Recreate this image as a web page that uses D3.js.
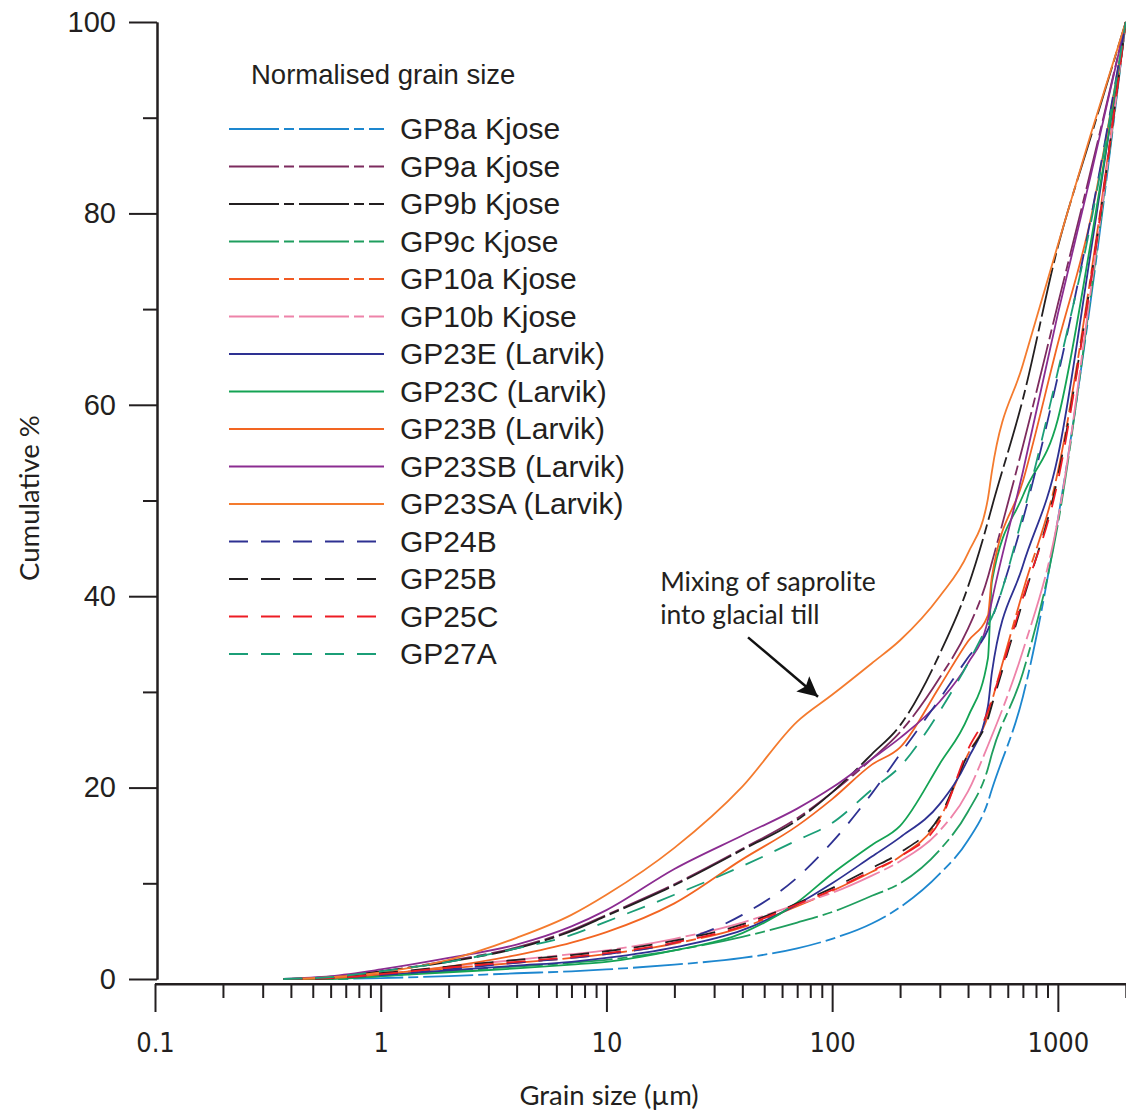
<!DOCTYPE html>
<html>
<head>
<meta charset="utf-8">
<script src="https://cdn.jsdelivr.net/npm/d3@7"></script>
<style>
  body { margin: 0; background: #fff; }
  svg { display: block; }
  .axis path, .axis line { stroke: #231f20; stroke-width: 2; }
  .axis text { fill: #231f20; }
  .curve { fill: none; stroke-width: 1.8; }
</style>
</head>
<body>
<div id="chart"></div>
<script>
// grain sizes (µm) shared by every sample
var sizes = [0.37, 0.6, 1, 2, 4, 7, 10, 20, 40, 70, 100, 150, 200, 300, 400, 490, 510, 700, 1000, 1400, 2000];

// cumulative % per sample
var gp8a   = [0, 0, 0.1, 0.3, 0.6, 0.8, 1.0, 1.5, 2.2, 3.2, 4.2, 5.8, 7.5, 11, 14.5, 18.5, 19.8, 29.5, 48, 71, 100];
var gp9a   = [0, 0.2, 0.8, 1.9, 3.3, 5.1, 6.7, 9.9, 13.6, 16.8, 19.5, 23, 25.8, 31.5, 36.6, 42, 43.5, 55.7, 70.5, 84.5, 100];
var gp9b   = [0, 0.2, 0.8, 1.8, 3.2, 5.0, 6.6, 9.8, 13.5, 16.6, 19.5, 23.5, 26.5, 34, 41, 47.8, 49.3, 60.6, 76.5, 88, 100];
var gp9c   = [0, 0, 0.3, 0.8, 1.3, 1.7, 2.0, 3.0, 4.4, 5.9, 7.0, 8.7, 10.0, 13.5, 17.5, 22, 23.5, 32, 47.5, 71.5, 100];
var gp10a  = [0, 0.1, 0.5, 1.1, 1.7, 2.2, 2.6, 3.7, 5.4, 7.6, 9.2, 11.2, 12.8, 16.8, 23.5, 27.5, 29, 40.5, 53, 73.5, 100];
var gp10b  = [0, 0.1, 0.5, 1.3, 2.0, 2.6, 3.0, 4.2, 5.9, 7.8, 9.0, 10.8, 12.3, 15.5, 19.6, 24.4, 25.4, 34.3, 48, 72, 100];
var gp23e  = [0, 0.1, 0.4, 0.9, 1.4, 1.8, 2.2, 3.3, 5.1, 7.8, 10.0, 12.8, 14.8, 18.3, 23, 28.5, 32, 43.2, 54.6, 76, 100];
var gp23c  = [0, 0, 0.3, 0.7, 1.1, 1.5, 1.8, 3.0, 4.8, 8.0, 11.0, 14.0, 16.0, 22.5, 27.4, 33.5, 41.5, 50.5, 58.5, 77, 100];
var gp23b  = [0, 0.1, 0.5, 1.3, 2.5, 3.8, 4.9, 7.9, 12.5, 16.0, 18.8, 22.4, 24.2, 30.6, 35.3, 38, 42, 52, 66.4, 79.5, 100];
var gp23sb = [0, 0.3, 1.0, 2.2, 3.6, 5.5, 7.2, 11.5, 15.0, 17.8, 20.0, 23.0, 25.2, 29, 33, 37.5, 39.5, 53, 69.5, 84, 100];
var gp23sa = [0, 0.2, 0.7, 2.0, 4.3, 6.7, 8.8, 13.7, 20.1, 26.9, 29.7, 33.0, 35.4, 40.0, 44.5, 50.2, 53.0, 64.2, 76.7, 88.3, 100];
var gp24b  = [0, 0.1, 0.4, 1.0, 1.7, 2.2, 2.6, 3.8, 6.7, 10.6, 14.3, 19.4, 23.5, 29.3, 33.6, 36.5, 37.6, 48, 63, 79.5, 100];
var gp25b  = [0, 0.1, 0.6, 1.3, 2.0, 2.5, 2.9, 4.0, 5.7, 7.9, 9.5, 11.6, 13.2, 17, 23.5, 27.2, 28.6, 39.5, 52.5, 73, 100];
var gp25c  = [0, 0.1, 0.5, 1.2, 1.8, 2.3, 2.7, 3.8, 5.5, 7.8, 9.3, 11.3, 12.8, 16.5, 24, 28, 29.2, 39.8, 52, 73, 100];
var gp27a  = [0, 0.2, 0.8, 1.8, 3.2, 4.6, 6.0, 8.8, 11.8, 14.5, 16.3, 19.8, 22.2, 28, 33, 37, 37.8, 48.5, 63.5, 79, 100];

var names = ['GP8a Kjose', 'GP9a Kjose', 'GP9b Kjose', 'GP9c Kjose', 'GP10a Kjose', 'GP10b Kjose',
    'GP23E (Larvik)', 'GP23C (Larvik)', 'GP23B (Larvik)', 'GP23SB (Larvik)', 'GP23SA (Larvik)',
    'GP24B', 'GP25B', 'GP25C', 'GP27A'];
var values = [gp8a, gp9a, gp9b, gp9c, gp10a, gp10b, gp23e, gp23c, gp23b, gp23sb, gp23sa, gp24b, gp25b, gp25c, gp27a];
var colors = ['#1d87cf', '#7d2b5e', '#231f20', '#1f9e5e', '#f15a22', '#ee83a9',
    '#2e3192', '#14a354', '#f26522', '#8b2c91', '#f47b2e',
    '#2e3192', '#231f20', '#ed1c24', '#1b9e77'];
var styles = ['dashdot', 'dashdot', 'dashdot', 'dashdot', 'dashdot', 'dashdot',
    'solid', 'solid', 'solid', 'solid', 'solid',
    'dash', 'dash', 'dash', 'dash'];

var xTicksMajor = [0.1, 1, 10, 100, 1000];
var yTicksMajor = [0, 20, 40, 60, 80, 100];
var yTicksMinor = [10, 30, 50, 70, 90];

var dashes = { solid: null, dashdot: '50,5,10,5', dash: '19,13' };

var width = 1126, height = 1113;

var svg = d3.select('#chart')
    .append('svg')
    .attr('width', width)
    .attr('height', height);

var x = d3.scaleLog()
    .domain([0.1, 2000])
    .range([155, 1125.8]);

var y = d3.scaleLinear()
    .domain([0, 100])
    .range([979, 22]);

var xMinor = [];
[0.1, 1, 10, 100, 1000].forEach(function(d) {
    for (var k = 2; k <= 9; k++) {
        if (d * k <= 2000) xMinor.push(d * k);
    }
});

var axisY0 = 984;

// x axis, minor then major
svg.append('g')
    .attr('class', 'axis')
    .attr('transform', 'translate(0,' + axisY0 + ')')
    .call(d3.axisBottom(x).tickValues(xMinor).tickSize(14).tickSizeOuter(0).tickFormat(''));

var xAxis = svg.append('g')
    .attr('class', 'axis')
    .attr('transform', 'translate(0,' + axisY0 + ')')
    .call(d3.axisBottom(x)
        .tickValues(xTicksMajor)
        .tickSize(28)
        .tickSizeOuter(0)
        .tickPadding(21)
        .tickFormat(function(d) { return d < 1 ? String(d) : d3.format('d')(d); }));
xAxis.select('.domain').remove();
xAxis.selectAll('text')
    .style('font-family', '"Liberation Sans Narrow", "DejaVu Sans Condensed", Lato, sans-serif')
    .style('font-size', '27px');

svg.append('line')
    .attr('x1', 155).attr('x2', width)
    .attr('y1', axisY0).attr('y2', axisY0)
    .attr('stroke', '#231f20').attr('stroke-width', 2);

// y axis
svg.append('g')
    .attr('class', 'axis')
    .attr('transform', 'translate(157,0)')
    .call(d3.axisLeft(y).tickValues(yTicksMinor).tickSize(14).tickSizeOuter(0).tickFormat(''));

var yAxis = svg.append('g')
    .attr('class', 'axis')
    .attr('transform', 'translate(157,0)')
    .call(d3.axisLeft(y).tickValues(yTicksMajor).tickSize(28).tickSizeOuter(0).tickPadding(13));
yAxis.selectAll('text')
    .style('font-family', '"Liberation Sans", Arial, sans-serif')
    .style('font-size', '29px');

// axis titles
var myriad = 'Lato, "Open Sans", sans-serif';

svg.append('text')
    .attr('x', 609)
    .attr('y', 1105)
    .attr('text-anchor', 'middle')
    .style('font-family', myriad)
    .style('font-size', '27.5px')
    .attr('fill', '#231f20')
    .text('Grain size (µm)');

svg.append('text')
    .attr('transform', 'translate(39,498) rotate(-90)')
    .attr('text-anchor', 'middle')
    .style('font-family', myriad)
    .style('font-size', '27.5px')
    .attr('fill', '#231f20')
    .text('Cumulative %');

// curves
var line = d3.line()
    .x(function(d) { return x(d[0]); })
    .y(function(d) { return y(d[1]); })
    .curve(d3.curveMonotoneX);

var data = names.map(function(n, i) {
    return {
        name: n,
        color: colors[i],
        style: styles[i],
        points: sizes.map(function(s, j) { return [s, values[i][j]]; })
    };
});

svg.append('g')
    .selectAll('.curve')
    .data(data)
    .enter()
    .append('path')
    .attr('class', 'curve')
    .attr('d', function(d) { return line(d.points); })
    .attr('stroke', function(d) { return d.color; })
    .attr('stroke-dasharray', function(d) { return dashes[d.style]; });

// legend
var legend = svg.append('g');

legend.append('text')
    .attr('x', 251)
    .attr('y', 84)
    .style('font-family', '"Liberation Sans", Arial, sans-serif')
    .style('font-size', '27.5px')
    .attr('fill', '#231f20')
    .text('Normalised grain size');

var rows = legend.selectAll('.legend-row')
    .data(data)
    .enter()
    .append('g')
    .attr('class', 'legend-row')
    .attr('transform', function(d, i) { return 'translate(0,' + (129 + i * 37.5) + ')'; });

rows.append('line')
    .attr('x1', 229)
    .attr('x2', 384)
    .attr('stroke', function(d) { return d.color; })
    .attr('stroke-width', 2)
    .attr('stroke-dasharray', function(d) { return dashes[d.style]; });

rows.append('text')
    .attr('x', 400)
    .attr('y', 10)
    .style('font-family', '"Liberation Sans", Arial, sans-serif')
    .style('font-size', '30px')
    .attr('fill', '#231f20')
    .text(function(d) { return d.name; });

// annotation, anchored in data space
var note = svg.append('g');
note.append('text')
    .attr('x', x(17.3))
    .attr('y', y(40.5))
    .style('font-family', myriad)
    .style('font-size', '26.5px')
    .attr('fill', '#231f20')
    .text('Mixing of saprolite');
note.append('text')
    .attr('x', x(17.3))
    .attr('y', y(37.1))
    .style('font-family', myriad)
    .style('font-size', '26.5px')
    .attr('fill', '#231f20')
    .text('into glacial till');

svg.append('defs').append('marker')
    .attr('id', 'arrow')
    .attr('viewBox', '0 0 10 10')
    .attr('refX', 10)
    .attr('refY', 5)
    .attr('markerWidth', 10)
    .attr('markerHeight', 8)
    .attr('markerUnits', 'strokeWidth')
    .attr('orient', 'auto')
    .append('path')
    .attr('d', 'M0,0L10,5L0,10L2,5Z')
    .attr('fill', '#111');

note.append('line')
    .attr('x1', x(42.4))
    .attr('y1', y(35.7))
    .attr('x2', x(86.6))
    .attr('y2', y(29.5))
    .attr('stroke', '#111')
    .attr('stroke-width', 2.5)
    .attr('marker-end', 'url(#arrow)');
</script>
</body>
</html>
